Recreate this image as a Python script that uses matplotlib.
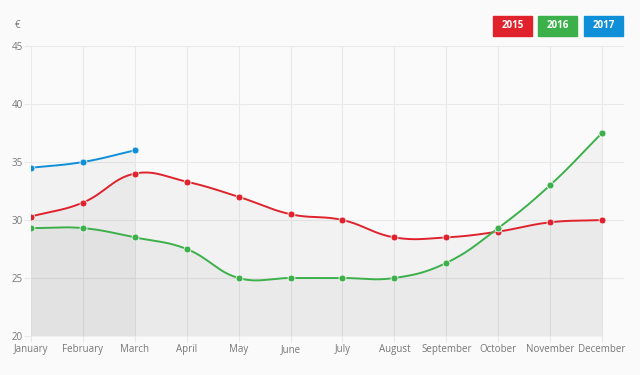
import numpy as np
import matplotlib
matplotlib.use('Agg')
import matplotlib.pyplot as plt
from matplotlib.patches import Rectangle

months = ['January', 'February', 'March', 'April', 'May', 'June', 'July',
          'August', 'September', 'October', 'November', 'December']
sales_2015 = [30.3, 31.5, 34.0, 33.3, 32.0, 30.5, 30.0, 28.5, 28.5, 29.0, 29.8, 30.0]
sales_2016 = [29.3, 29.3, 28.5, 27.5, 25.0, 25.0, 25.0, 25.0, 26.3, 29.3, 33.0, 37.5]
sales_2017 = [34.5, 35.0, 36.0]
y_ticks = [20, 25, 30, 35, 40, 45]

series = [('2015', sales_2015, '#e0222d'),
          ('2016', sales_2016, '#3cb04a'),
          ('2017', sales_2017, '#0f8fd7')]

# px per unit, used so the spline tension behaves like it does on screen
SX, SY = 51.9, 11.6


def spline(values, tension=0.4, n=30):
    x = np.arange(len(values), dtype=float)
    y = np.asarray(values, dtype=float)
    px, py = x * SX, y * SY
    cin, cout = [], []
    for i in range(len(px)):
        p0 = (px[max(i - 1, 0)], py[max(i - 1, 0)])
        p2 = (px[min(i + 1, len(px) - 1)], py[min(i + 1, len(px) - 1)])
        d01 = np.hypot(px[i] - p0[0], py[i] - p0[1])
        d12 = np.hypot(p2[0] - px[i], p2[1] - py[i])
        tot = d01 + d12 if d01 + d12 > 0 else 1
        fa, fb = tension * d01 / tot, tension * d12 / tot
        cin.append((px[i] - fa * (p2[0] - p0[0]), py[i] - fa * (p2[1] - p0[1])))
        cout.append((px[i] + fb * (p2[0] - p0[0]), py[i] + fb * (p2[1] - p0[1])))
    xs, ys = [], []
    t = np.linspace(0, 1, n)
    for i in range(len(px) - 1):
        b0 = np.array([px[i], py[i]])
        b1 = np.array(cout[i])
        b2 = np.array(cin[i + 1])
        b3 = np.array([px[i + 1], py[i + 1]])
        pts = ((1 - t)[:, None] ** 3 * b0 + 3 * ((1 - t) ** 2 * t)[:, None] * b1
               + 3 * ((1 - t) * t ** 2)[:, None] * b2 + (t ** 3)[:, None] * b3)
        xs.extend(pts[:, 0] / SX)
        ys.extend(pts[:, 1] / SY)
    return np.array(xs), np.array(ys)


fig = plt.figure(figsize=(6.4, 3.75), dpi=100, facecolor='#fafafa')
ax = fig.add_axes([31 / 640, 1 - 336 / 375, 593 / 640, 290 / 375])
ax.set_facecolor('#fafafa')

for name, vals, col in series:
    xs, ys = spline(vals)
    ax.fill_between(xs, ys, 20, color='black', alpha=0.03, linewidth=0, zorder=1)
    ax.plot(xs, ys, color=col, lw=1.4, zorder=3)
    ax.plot(range(len(vals)), vals, 'o', color=col, ms=5, mec='#f4f4f4', mew=0.6, zorder=4)

ax.set_xlim(0, 11 + 22 / SX)
ax.set_ylim(20, 45)
ax.set_xticks(range(len(months)))
ax.set_xticklabels(months)
ax.set_yticks(y_ticks)
ax.grid(True, color='#e9e9e9', lw=0.8, zorder=0)
ax.set_axisbelow(True)
for s in ax.spines.values():
    s.set_visible(False)
ax.tick_params(axis='x', length=4, color='#e9e9e9', pad=2, labelsize=7, labelcolor='#777777')
ax.tick_params(axis='y', length=5, color='#e9e9e9', pad=1, labelsize=7, labelcolor='#777777')
for lab in ax.get_xticklabels() + ax.get_yticklabels():
    lab.set_family('Open Sans')

fig.text(18 / 640, 1 - 25 / 375, '€', color='#777777', fontsize=7, family='Open Sans',
         ha='center', va='center')

# legend boxes
box_x = [493, 538, 584]
for (name, vals, col), bx in zip(series, box_x):
    fig.patches.append(Rectangle((bx / 640, 1 - 36 / 375), 39 / 640, 20 / 375,
                                 transform=fig.transFigure, color=col))
    fig.text((bx + 19.5) / 640, 1 - 26 / 375, name, color='white', fontsize=7,
             fontweight='bold', family='Open Sans', ha='center', va='center')

fig.savefig('out.png', dpi=100, facecolor=fig.get_facecolor())
